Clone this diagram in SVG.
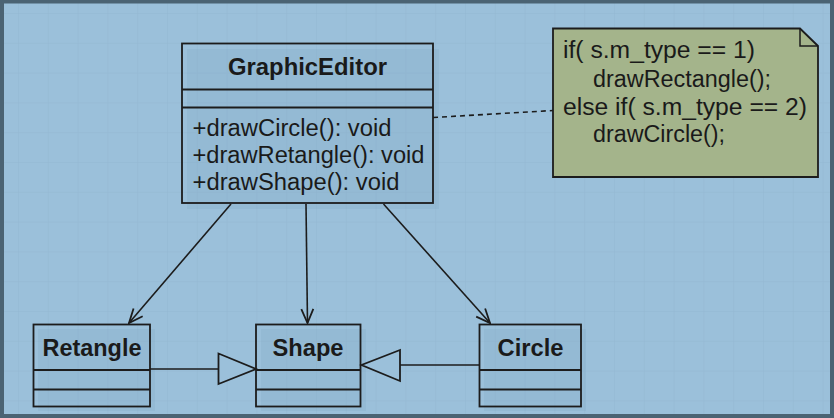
<svg xmlns="http://www.w3.org/2000/svg" width="834" height="418" viewBox="0 0 834 418">
<defs>
<pattern id="grid" x="18" y="13" width="29.8" height="29.8" patternUnits="userSpaceOnUse">
<path d="M0 0V29.8M0 0H29.8" fill="none" stroke="#93b8d2" stroke-width="1"/>
</pattern>
<marker id="open" markerWidth="16" markerHeight="16" viewBox="-15 -8 16 16" refX="0" refY="0" orient="auto" markerUnits="userSpaceOnUse">
<path d="M-14 -6L0 0L-14 6" fill="none" stroke="#1c1c1c" stroke-width="1.8"/>
</marker>
</defs>
<style>
.box{fill:none;stroke:#1c1c1c;stroke-width:1.8}
.shadow{fill:#7fa6c2;opacity:0.25}
.div{stroke:#1c1c1c;stroke-width:1.8}
.name{font-family:"Liberation Sans",Arial,sans-serif;font-weight:bold;font-size:23px;fill:#1a1a1a;text-anchor:middle}
.txt{font-family:"Liberation Sans",Arial,sans-serif;font-size:23px;fill:#1a1a1a}
.edge{fill:none;stroke:#1c1c1c;stroke-width:1.6}
.tri{fill:#9bc0da;stroke:#1c1c1c;stroke-width:1.8;stroke-linejoin:miter}
</style>
<rect x="0" y="0" width="834" height="418" fill="#9bc0da"/>
<rect x="0" y="0" width="834" height="418" fill="url(#grid)"/>
<rect x="2" y="1.5" width="830" height="414.5" fill="none" stroke="#4b6373" stroke-width="4"/>

<g id="GraphicEditor">
<rect class="shadow" x="187" y="49" width="252" height="160"/>
<rect x="182" y="43.5" width="251" height="159.5" fill="#9bc0da" class="box"/>
<line class="div" x1="182" y1="89.5" x2="433" y2="89.5"/>
<line class="div" x1="182" y1="107.5" x2="433" y2="107.5"/>
<text class="name" x="307.5" y="75" textLength="159" lengthAdjust="spacingAndGlyphs">GraphicEditor</text>
<text class="txt" x="192.5" y="135.5" textLength="199" lengthAdjust="spacingAndGlyphs">+drawCircle(): void</text>
<text class="txt" x="192.5" y="163" textLength="232" lengthAdjust="spacingAndGlyphs">+drawRetangle(): void</text>
<text class="txt" x="192.5" y="190" textLength="207" lengthAdjust="spacingAndGlyphs">+drawShape(): void</text>
</g>

<g id="note">
<path d="M553 28.5H800L818 46V177H553Z" fill="#a4b48b" stroke="#1c1c1c" stroke-width="1.8"/>
<path d="M800 28.5V46H818" fill="none" stroke="#1c1c1c" stroke-width="1.5"/>
<text class="txt" x="563" y="58" textLength="192" lengthAdjust="spacingAndGlyphs">if( s.m_type == 1)</text>
<text class="txt" x="593" y="87" textLength="178" lengthAdjust="spacingAndGlyphs">drawRectangle();</text>
<text class="txt" x="563" y="114.5" textLength="244" lengthAdjust="spacingAndGlyphs">else if( s.m_type == 2)</text>
<text class="txt" x="593" y="142" textLength="132" lengthAdjust="spacingAndGlyphs">drawCircle();</text>
</g>

<g id="Retangle">
<rect class="shadow" x="38" y="329" width="117" height="82"/>
<rect x="33.5" y="324.5" width="116.5" height="82" fill="#9bc0da" class="box"/>
<line class="div" x1="33.5" y1="370" x2="150" y2="370"/>
<line class="div" x1="33.5" y1="389.5" x2="150" y2="389.5"/>
<text class="name" x="92" y="356" textLength="99" lengthAdjust="spacingAndGlyphs">Retangle</text>
</g>

<g id="Shape">
<rect class="shadow" x="261" y="329" width="105" height="82"/>
<rect x="256" y="324.5" width="104.5" height="82" fill="#9bc0da" class="box"/>
<line class="div" x1="256" y1="370" x2="360.5" y2="370"/>
<line class="div" x1="256" y1="389.5" x2="360.5" y2="389.5"/>
<text class="name" x="308" y="356" textLength="71" lengthAdjust="spacingAndGlyphs">Shape</text>
</g>

<g id="Circle">
<rect class="shadow" x="484" y="329" width="102" height="82"/>
<rect x="479.5" y="324.5" width="101.5" height="82" fill="#9bc0da" class="box"/>
<line class="div" x1="479.5" y1="370" x2="581" y2="370"/>
<line class="div" x1="479.5" y1="389.5" x2="581" y2="389.5"/>
<text class="name" x="530.5" y="356" textLength="66" lengthAdjust="spacingAndGlyphs">Circle</text>
</g>

<g id="connectors">
<line class="edge" x1="433" y1="117.5" x2="553" y2="110.5" stroke-dasharray="5,4"/>
<line class="edge" x1="231" y1="204" x2="129" y2="323" marker-end="url(#open)"/>
<line class="edge" x1="306" y1="204" x2="307.5" y2="323" marker-end="url(#open)"/>
<line class="edge" x1="383.5" y1="204" x2="490" y2="323" marker-end="url(#open)"/>
<line class="edge" x1="150" y1="369" x2="218.5" y2="369"/>
<path class="tri" d="M218.5 353.5L256 369L218.5 384Z"/>
<line class="edge" x1="479.5" y1="365" x2="400" y2="365"/>
<path class="tri" d="M400 350L361.5 365L400 381Z"/>
</g>
</svg>
